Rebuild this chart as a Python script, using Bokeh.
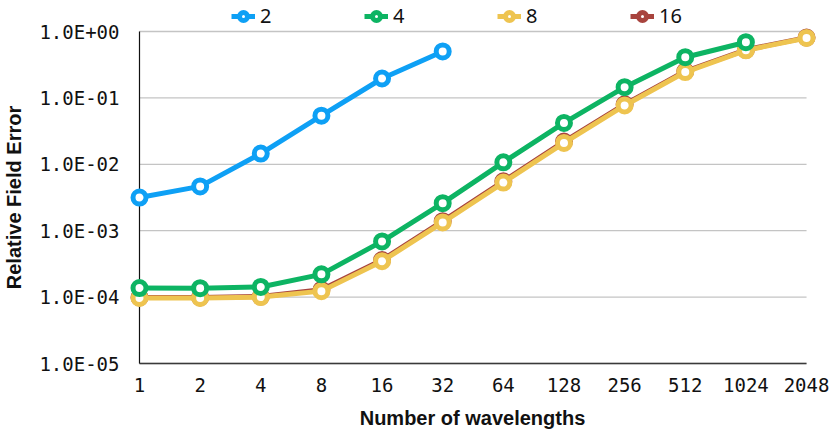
import math
from bokeh.plotting import figure
from bokeh.models import (Range1d, LogAxis, FixedTicker, Legend, LegendItem, Label,
                          CustomJSTickFormatter)
from bokeh.embed import file_html
from bokeh.resources import INLINE

# ---------------- data ----------------
wavelengths = [1, 2, 4, 8, 16, 32, 64, 128, 256, 512, 1024, 2048]
x_tick_labels = ["1", "2", "4", "8", "16", "32", "64", "128", "256", "512", "1024", "2048"]
y_ticks = [1e-5, 1e-4, 1e-3, 1e-2, 1e-1, 1.0]
y_tick_labels = ["1.0E-05", "1.0E-04", "1.0E-03", "1.0E-02", "1.0E-01", "1.0E+00"]

series_names = ["2", "4", "8", "16"]
err_2 = [3.16e-3, 4.65e-3, 1.45e-2, 5.4e-2, 1.96e-1, 5.0e-1]
err_4 = [1.37e-4, 1.36e-4, 1.42e-4, 2.2e-4, 6.9e-4, 2.6e-3, 1.07e-2, 4.2e-2, 1.45e-1, 4.1e-1, 6.9e-1]
err_8 = [9.7e-5, 9.7e-5, 1.0e-4, 1.23e-4, 3.47e-4, 1.33e-3, 5.3e-3, 2.1e-2, 7.7e-2, 2.45e-1, 5.2e-1, 8.0e-1]
err_16 = [9.9e-5, 9.9e-5, 1.02e-4, 1.29e-4, 3.62e-4, 1.39e-3, 5.55e-3, 2.2e-2, 8.0e-2, 2.52e-1, 5.3e-1, 8.1e-1]
series_values = [err_2, err_4, err_8, err_16]
colors = ["#0EA0F5", "#0DB463", "#EEC450", "#A8443E"]

# ---------------- layout ----------------
W, H = 830, 432
x_left_px, px_per_octave = 139, 60.64
y_top_px, px_per_decade = 31, 66.4

x_start = 2 ** (-x_left_px / px_per_octave)
x_end = 2 ** ((W - x_left_px) / px_per_octave)
y_end = 10 ** (y_top_px / px_per_decade)
y_start = 10 ** (-(H - y_top_px) / px_per_decade)

p = figure(width=W, height=H, output_backend="svg", toolbar_location=None,
           x_axis_type="log", y_axis_type="log",
           x_axis_location=None, y_axis_location=None,
           x_range=Range1d(x_start, x_end), y_range=Range1d(y_start, y_end),
           min_border=0, min_border_left=0, min_border_right=0,
           min_border_top=0, min_border_bottom=0)
p.outline_line_color = None
p.background_fill_color = "white"
p.border_fill_color = "white"
for g in p.grid:
    g.visible = False

# grid lines (light grey), spanning the data extent only
p.segment(x0=wavelengths[0], x1=wavelengths[-1], y0=y_ticks, y1=y_ticks,
          line_color="#c4c4c4", line_width=1.3, level="underlay")

mono = "DejaVu Sans Mono"

xaxis = LogAxis(ticker=FixedTicker(ticks=wavelengths),
                formatter=CustomJSTickFormatter(args=dict(labels=x_tick_labels),
                                                code="return labels[index]"),
                fixed_location=y_ticks[0], bounds=(wavelengths[0], wavelengths[-1]))
xaxis.axis_line_color = "#3a3a3a"
xaxis.axis_line_width = 1.6
xaxis.major_tick_line_color = None
xaxis.minor_tick_line_color = None
xaxis.major_tick_out = 0
xaxis.major_tick_in = 0
xaxis.major_label_standoff = 14
xaxis.major_label_text_font = mono
xaxis.major_label_text_font_size = "19px"
xaxis.major_label_text_color = "#111111"
xaxis.level = "underlay"
p.add_layout(xaxis, "below")

yaxis = LogAxis(ticker=FixedTicker(ticks=y_ticks),
                formatter=CustomJSTickFormatter(args=dict(labels=y_tick_labels),
                                                code="return labels[index]"),
                fixed_location=wavelengths[0], bounds=(y_ticks[0], y_ticks[-1]))
yaxis.axis_line_color = "#111111"
yaxis.axis_line_width = 1.2
yaxis.major_tick_line_color = None
yaxis.minor_tick_line_color = None
yaxis.major_tick_out = 0
yaxis.major_tick_in = 0
yaxis.major_label_standoff = 20
yaxis.major_label_text_font = mono
yaxis.major_label_text_font_size = "19px"
yaxis.major_label_text_color = "#111111"
yaxis.level = "underlay"
p.add_layout(yaxis, "left")

# series, drawn in reverse so that "2" ends on top
items = {}
for name, vals, col in reversed(list(zip(series_names, series_values, colors))):
    xs = wavelengths[:len(vals)]
    ln = p.line(xs, vals, line_color=col, line_width=5)
    sc = p.scatter(xs, vals, marker="circle", size=13, fill_color="white",
                   line_color=col, line_width=5)
    items[name] = [ln, sc]

legend = Legend(items=[LegendItem(label=n, renderers=items[n]) for n in series_names],
                orientation="horizontal", location=(231, 403),
                border_line_color=None, background_fill_alpha=0,
                glyph_width=24, glyph_height=20, label_standoff=5, label_width=25,
                spacing=79, padding=0, margin=0,
                label_text_font="Noto Sans", label_text_font_size="20px",
                label_text_color="#111111", label_text_baseline="middle")
p.add_layout(legend, "center")

title_font = "Liberation Sans"
p.add_layout(Label(x=13, y=235, x_units="screen", y_units="screen",
                   text="Relative Field Error", angle=math.pi / 2,
                   text_align="center", text_baseline="middle",
                   text_font=title_font, text_font_style="bold",
                   text_font_size="20px", text_color="#111111"))
p.add_layout(Label(x=472, y=15, x_units="screen", y_units="screen",
                   text="Number of wavelengths",
                   text_align="center", text_baseline="middle",
                   text_font=title_font, text_font_style="bold",
                   text_font_size="20px", text_color="#111111"))

open("out.html", "w").write(file_html(p, INLINE))
